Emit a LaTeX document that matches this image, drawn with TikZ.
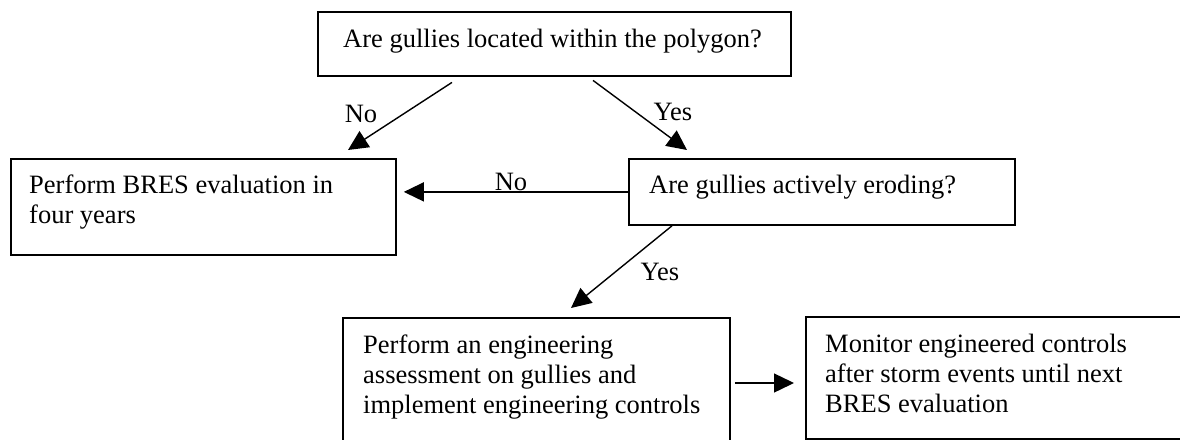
\documentclass[tikz,border=0pt]{standalone}
\usepackage{fontspec}
\setmainfont{Liberation Serif}
\usetikzlibrary{arrows.meta}

\tikzset{
  box/.style={draw, line width=1.8pt, anchor=north west, inner sep=0pt},
  txt/.style={anchor=north west, inner sep=0pt, align=left,
    font=\fontsize{26.5}{30}\selectfont},
  lbl/.style={anchor=base, inner sep=0pt, font=\fontsize{26.5}{30}\selectfont},
  arr/.style={line width=1.4pt, -{Triangle[length=20pt,width=19pt]}}
}

\begin{document}
\begin{tikzpicture}[x=1pt,y=-1pt]
  \useasboundingbox (0,0) rectangle (1180,439);
  \clip (0,0) rectangle (1180,439);

  % decision and action boxes
  \node[box, line width=2.4pt, minimum width=473pt, minimum height=64pt] (q1) at (317,11) {};
  \node[box, minimum width=385pt, minimum height=96pt]  (b2) at (10,158) {};
  \node[box, minimum width=386pt, minimum height=66pt]  (q2) at (628,158) {};
  \node[box, minimum width=387pt, minimum height=140pt] (b5) at (342,317) {};
  \node[box, minimum width=400pt, minimum height=122pt] (b4) at (805,316) {};

  % box texts
  \node[txt] (q1t) at ([shift={(26pt,-15pt)}]q1.north west)
    {\strut Are gullies located within the polygon?};
  \node[txt] (b2t) at ([shift={(19pt,-14pt)}]b2.north west)
    {\strut Perform BRES evaluation in\\four years};
  \node[txt] (q2t) at ([shift={(21pt,-14pt)}]q2.north west)
    {\strut Are gullies actively eroding?};
  \node[txt] (b5t) at ([shift={(21pt,-15pt)}]b5.north west)
    {\strut Perform an engineering\\assessment on gullies and\\implement engineering controls};
  \node[txt] (b4t) at ([shift={(20pt,-15pt)}]b4.north west)
    {\strut Monitor engineered controls\\after storm events until next\\BRES evaluation};

  % connectors
  \draw[arr] ([shift={(135pt,-5pt)}]q1.south west) -- ([shift={(338pt,8pt)}]b2.north west);
  \draw[arr] ([shift={(276pt,-3pt)}]q1.south west) -- ([shift={(59pt,8pt)}]q2.north west);
  \draw[arr] (q2.west) -- ([xshift=7pt]b2.east |- q2.west);
  \draw[arr] ([shift={(44pt,0pt)}]q2.south west) -- ([shift={(229pt,9pt)}]b5.north west);
  \draw[arr] ([shift={(4pt,-66pt)}]b5.north east) -- ([shift={(-11pt,-67pt)}]b4.north west);

  % branch labels
  \node[lbl] (n1) at (361,122) {No};
  \node[lbl] (y1) at (673,120) {Yes};
  \node[lbl] (n2) at (511,190) {No};
  \node[lbl] (y2) at (660,280) {Yes};
\end{tikzpicture}
\end{document}
